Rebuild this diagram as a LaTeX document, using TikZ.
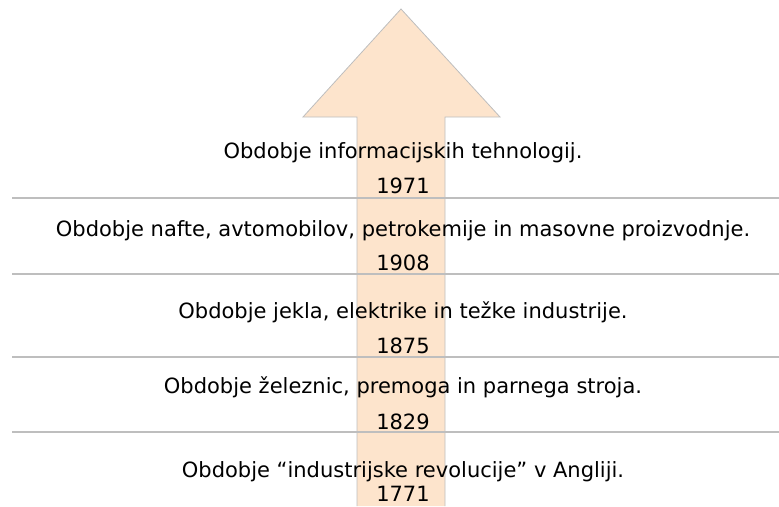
\documentclass[tikz,border=0pt]{standalone}
\usepackage{fontspec}
\setmainfont{DejaVu Sans}
\definecolor{arrowfill}{RGB}{253,228,204}
\definecolor{rulegray}{RGB}{190,190,190}
\begin{document}
\begin{tikzpicture}[x=1pt,y=-1pt,
    era/.style={anchor=base,inner sep=0pt,font=\fontsize{21}{25}\selectfont},
    year/.style={era},
    rule/.style={draw=rulegray,line width=1.4pt}]
  \useasboundingbox (0,0) rectangle (779,506);
  \filldraw[fill=arrowfill,draw=rulegray,line width=0.8pt]
    (357,506) -- (357,117) -- (303,117) -- (401,9)
    -- (500,117) -- (445,117) -- (445,506);
  \draw[rule] (12,198) -- (779,198);
  \draw[rule] (12,274) -- (779,274);
  \draw[rule] (12,357) -- (779,357);
  \draw[rule] (12,432) -- (779,432);
  \draw
    (403,158) node[era] (e5){Obdobje informacijskih tehnologij.}
    (403,193) node[year] (y5){1971}
    (403,236) node[era] (e4){Obdobje nafte, avtomobilov, petrokemije in masovne proizvodnje.}
    (403,270) node[year] (y4){1908}
    (403,318) node[era] (e3){Obdobje jekla, elektrike in težke industrije.}
    (403,353) node[year] (y3){1875}
    (403,393) node[era] (e2){Obdobje železnic, premoga in parnega stroja.}
    (403,429) node[year] (y2){1829}
    (403,477) node[era] (e1){Obdobje “industrijske revolucije” v Angliji.}
    (403,501) node[year] (y1){1771};
\end{tikzpicture}
\end{document}
